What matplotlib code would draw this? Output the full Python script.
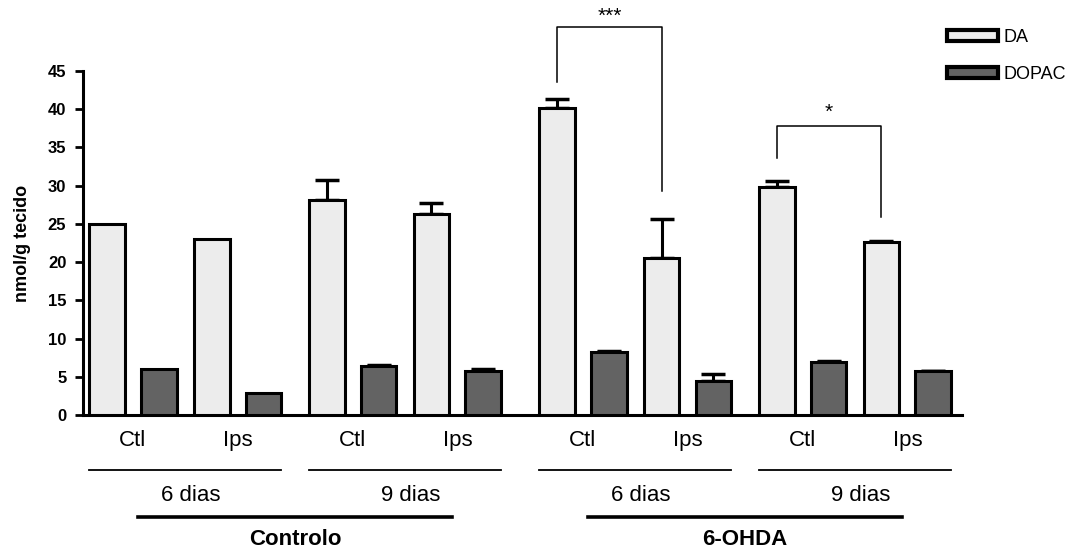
import matplotlib
matplotlib.use("Agg")
import matplotlib.pyplot as plt
import numpy as np

plt.rcParams['font.family'] = ['Liberation Sans', 'DejaVu Sans']

# data
cats = ["Ctl", "Ips", "Ctl", "Ips", "Ctl", "Ips", "Ctl", "Ips"]
times = ["6 dias", "9 dias", "6 dias", "9 dias"]
groups = ["Controlo", "6-OHDA"]
da = [25.0, 23.0, 28.1, 26.3, 40.2, 20.6, 29.8, 22.6]
da_err = [0.0, 0.0, 2.7, 1.4, 1.1, 5.0, 0.8, 0.2]
dopac = [6.0, 2.9, 6.4, 5.8, 8.3, 4.4, 6.9, 5.7]
dopac_err = [0.0, 0.0, 0.2, 0.2, 0.1, 0.9, 0.15, 0.1]

# layout
pos = np.array([0, 1, 2.1, 3.1, 4.3, 5.3, 6.4, 7.4])
off = 0.495
w = 0.34
ecol = "black"

fig = plt.figure(figsize=(10.88, 5.53), dpi=100)
ax = fig.add_axes([83/1088, 1-415/553, (962-83)/1088, 344/553])

ax.bar(pos, da, w, color="#ececec", edgecolor=ecol, linewidth=2.2, label="DA", zorder=3)
ax.bar(pos + off, dopac, w, color="#636363", edgecolor=ecol, linewidth=2.2, label="DOPAC", zorder=3)

for x, v, e in [(pos, da, da_err), (pos + off, dopac, dopac_err)]:
    v, e = np.array(v), np.array(e)
    m = e > 0
    ax.errorbar(x[m], v[m], yerr=[np.zeros(m.sum()), e[m]], fmt="none", ecolor=ecol,
                elinewidth=2.2, capsize=8.5, capthick=2.5, zorder=2)

ax.set_xlim(-0.23, 8.17)
ax.set_ylim(0, 45)
ax.set_yticks(range(0, 46, 5))
ax.set_xticks([])
for s in ["top", "right"]:
    ax.spines[s].set_visible(False)
for s in ["left", "bottom"]:
    ax.spines[s].set_linewidth(2.2)
ax.tick_params(axis="y", length=6, width=2, labelsize=12, pad=6)
for t in ax.get_yticklabels():
    t.set_fontweight("bold")
ax.set_ylabel("nmol/g tecido", fontsize=13, fontweight="bold", labelpad=12)

# significance brackets
def bracket(i, j, top, yl, yr, txt, ty):
    x1, x2 = pos[i], pos[j]
    ax.plot([x1, x1, x2, x2], [yl, top, top, yr], color="black", lw=1.1,
            clip_on=False, zorder=4)
    ax.text((x1 + x2) / 2, ty, txt, ha="center", va="center", fontsize=15,
            clip_on=False)

bracket(4, 5, 50.8, 43.5, 29.3, "***", 52.2)
bracket(6, 7, 37.8, 33.6, 25.9, "*", 39.6)

# x category labels
tr = ax.get_xaxis_transform()
for p, c in zip(pos, cats):
    ax.text(p + off / 2, -0.075, c, transform=tr, ha="center", va="center",
            fontsize=16, clip_on=False)
for k, t in enumerate(times):
    a, b = pos[2 * k] - w / 2, pos[2 * k + 1] + off + w / 2
    ax.plot([a, b], [-0.16, -0.16], transform=tr, color="black", lw=1.3, clip_on=False)
    ax.text((a + b) / 2 + 0.05, -0.235, t, transform=tr, ha="center", va="center",
            fontsize=16, clip_on=False)
for k, g in enumerate(groups):
    a, b = pos[4 * k] - w / 2, pos[4 * k + 3] + off + w / 2
    c = (a + b) / 2
    ax.plot([c - 1.5, c + 1.5], [-0.297, -0.297], transform=tr, color="black",
            lw=2.6, clip_on=False)
    ax.text(c, -0.363, g, transform=tr, ha="center", va="center", fontsize=16,
            fontweight="bold", clip_on=False)

leg = ax.legend(loc="upper left", bbox_to_anchor=(940/1088, 1-22/553),
                bbox_transform=fig.transFigure, frameon=False, fontsize=13,
                handlelength=2.8, handleheight=0.55, labelspacing=1.1,
                handletextpad=0.3, borderaxespad=0)
for h in leg.legend_handles:
    h.set_linewidth(3)

fig.savefig("out.png", dpi=100)
